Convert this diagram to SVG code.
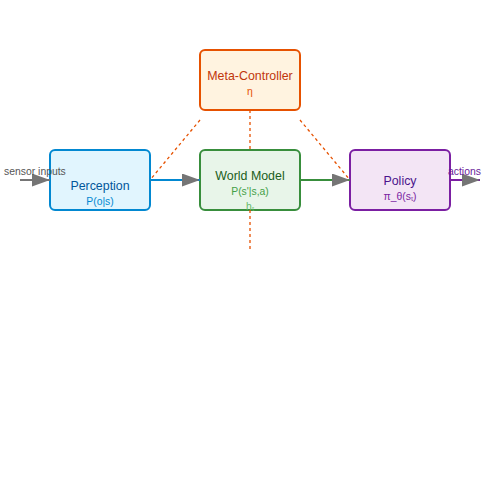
<svg xmlns="http://www.w3.org/2000/svg" width="500" height="500" viewBox="0 0 500 500">
<style>
text{font-family:"Liberation Sans",Arial,sans-serif;text-anchor:middle}
.t{font-size:12.4px}
.s{font-size:10.4px}
.lbl{font-size:10.4px;text-anchor:start}
.flow{stroke-width:2;fill:none}
.dash{stroke:#e65100;stroke-width:1.3;stroke-dasharray:3,3;fill:none}
.box{stroke-width:2}
</style>
<defs>
<marker id="ah" viewBox="0 0 18 13" refX="18" refY="6.5" markerWidth="18" markerHeight="13" markerUnits="userSpaceOnUse" orient="auto">
<path d="M0,0 L18,6.5 L0,13 Z" fill="#757575"/>
</marker>
</defs>
<rect width="500" height="500" fill="#ffffff"/>
<g id="meta-controller">
<rect class="box" x="200" y="50" width="100" height="60" rx="5" fill="#fff3e0" stroke="#e65100"/>
<text class="t" x="250" y="80" fill="#bf360c">Meta-Controller</text>
<text class="s" x="250" y="95" fill="#e65100">η</text>
</g>
<g id="perception">
<rect class="box" x="50" y="150" width="100" height="60" rx="5" fill="#e1f5fe" stroke="#0288d1"/>
<text class="t" x="100" y="190" fill="#01579b">Perception</text>
<text class="s" x="100" y="205" fill="#0288d1">P(o|s)</text>
</g>
<g id="world-model">
<rect class="box" x="200" y="150" width="100" height="60" rx="5" fill="#e8f5e9" stroke="#388e3c"/>
<text class="t" x="250" y="180" fill="#1b5e20">World Model</text>
<text class="s" x="250" y="195" fill="#43a047">P(s'|s,a)</text>
<text class="s" x="250" y="210" fill="#66bb6a">hₜ</text>
</g>
<g id="policy">
<rect class="box" x="350" y="150" width="100" height="60" rx="5" fill="#f3e5f5" stroke="#7b1fa2"/>
<text class="t" x="400" y="185" fill="#4a148c">Policy</text>
<text class="s" x="400" y="200" fill="#7b1fa2">π_θ(sₜ)</text>
</g>
<g id="connectors">
<line class="flow" x1="20" y1="180" x2="50" y2="180" stroke="#757575" marker-end="url(#ah)"/>
<line class="flow" x1="150" y1="180" x2="200" y2="180" stroke="#0288d1" marker-end="url(#ah)"/>
<line class="flow" x1="300" y1="180" x2="350" y2="180" stroke="#388e3c" marker-end="url(#ah)"/>
<line class="flow" x1="450" y1="180" x2="480" y2="180" stroke="#7b1fa2" marker-end="url(#ah)"/>
<line class="dash" x1="200" y1="120" x2="150" y2="180"/>
<line class="dash" x1="250" y1="110" x2="250" y2="150"/>
<line class="dash" x1="300" y1="120" x2="350" y2="180"/>
<line class="dash" x1="250" y1="210" x2="250" y2="250"/>
<text class="lbl" x="4" y="175" fill="#555555">sensor inputs</text>
<text class="lbl" x="448" y="175" fill="#6a1b9a">actions</text>
</g>
</svg>
